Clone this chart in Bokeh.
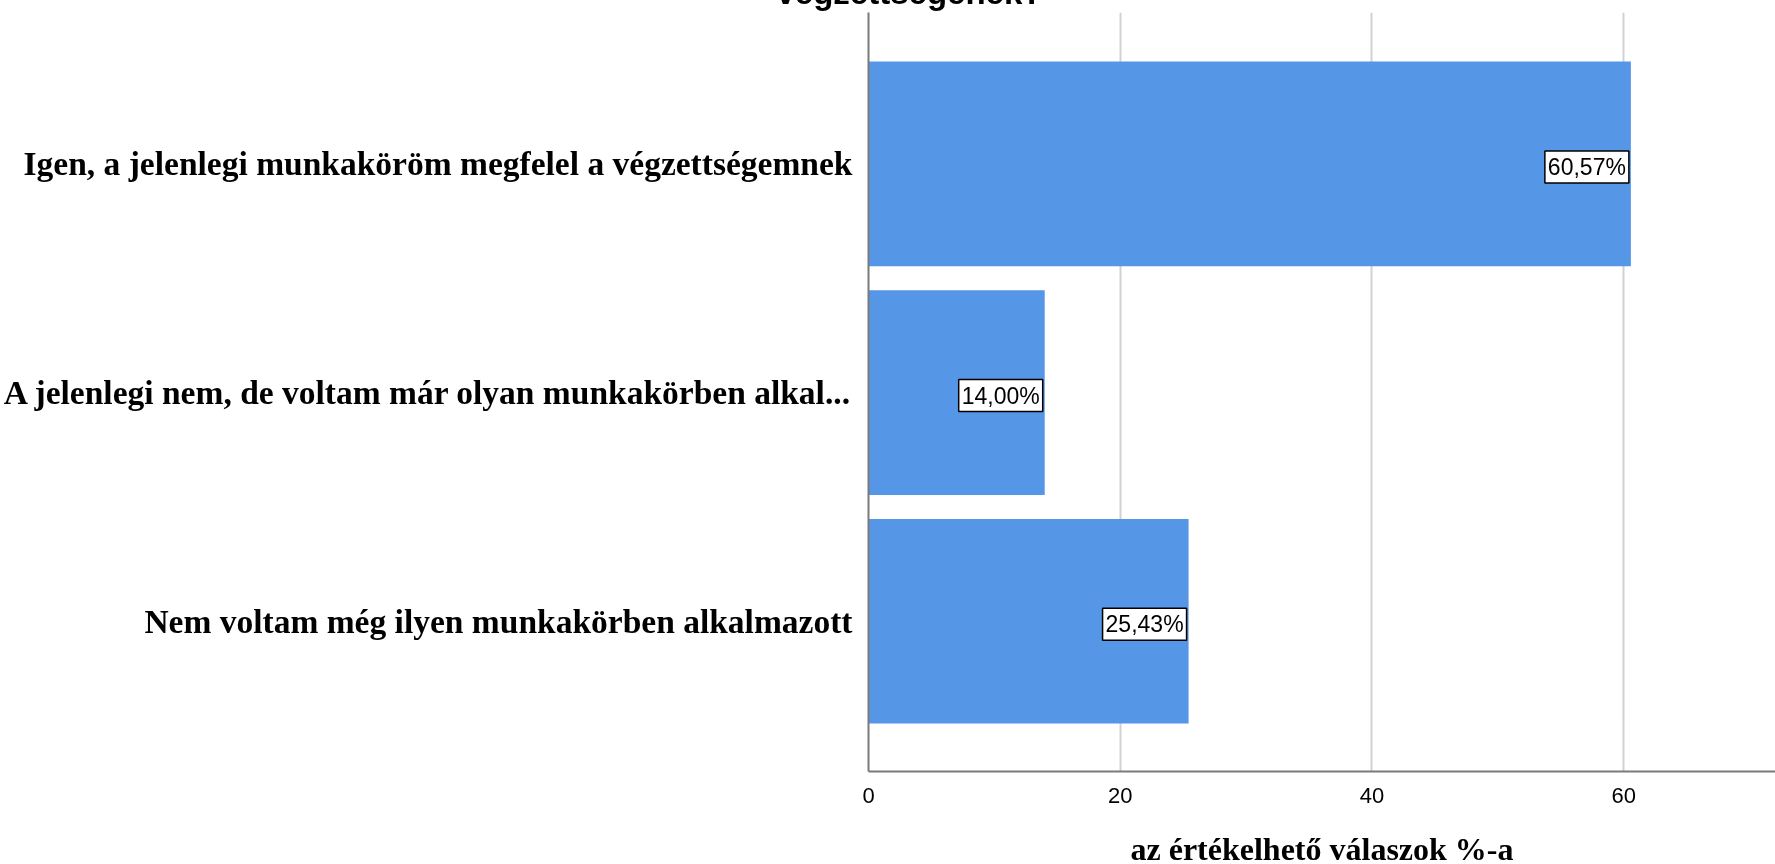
from bokeh.plotting import figure
from bokeh.models import Range1d, FixedTicker, ColumnDataSource
from bokeh.embed import file_html
from bokeh.resources import INLINE
from bokeh.core.properties import value

categories = [
    "Igen, a jelenlegi munkaköröm megfelel a végzettségemnek",
    "A jelenlegi nem, de voltam már olyan munkakörben alkal...",
    "Nem voltam még ilyen munkakörben alkalmazott",
]
percent = [60.57, 14.00, 25.43]
value_labels = ["60,57%", "14,00%", "25,43%"]
x_ticks = [0, 20, 40, 60]
title_tail = "végzettségének?"
x_title = "az értékelhető válaszok %-a"

positions = list(range(len(categories)))
src = ColumnDataSource(dict(pos=positions, val=percent, lbl=value_labels))

p = figure(width=1775, height=909, output_backend="svg", toolbar_location=None,
           x_range=Range1d(0, 72.06), y_range=Range1d(2.657, -0.662),
           min_border_left=867, min_border_right=0, min_border_top=52,
           min_border_bottom=97)
p.styles = {"position": "fixed", "top": "-40px", "left": "0px"}
p.outline_line_color = None
p.background_fill_color = "white"
p.border_fill_color = "white"

p.title.text = title_tail
p.title.align = "left"
p.title.offset = -92
p.title.standoff = 3
p.title.text_font = "Liberation Sans"
p.title.text_font_style = "bold"
p.title.text_font_size = "33px"
p.title.text_color = "black"

p.hbar(y="pos", left=0, right="val", height=0.895, source=src,
       fill_color="#5596e6", line_color=None)

p.text(x="val", y="pos", text="lbl", source=src, text_align="right",
       text_baseline="middle", text_font=value("Liberation Sans"),
       text_font_size="23px", text_color="black", x_offset=-2, y_offset=3,
       background_fill_color="white", border_line_color="black",
       border_line_width=1.5, padding=3)

p.xaxis.ticker = FixedTicker(ticks=x_ticks)
p.xaxis.axis_label = x_title
p.xaxis.axis_label_text_font = "Liberation Serif"
p.xaxis.axis_label_text_font_style = "bold"
p.xaxis.axis_label_text_font_size = "32px"
p.xaxis.axis_label_text_color = "black"
p.xaxis.axis_label_standoff = 25
p.xaxis.major_label_text_font = "Liberation Sans"
p.xaxis.major_label_text_font_size = "22px"
p.xaxis.major_label_text_color = "black"
p.xaxis.major_label_standoff = 10
p.xaxis.major_tick_line_color = None
p.xaxis.minor_tick_line_color = None
p.xaxis.axis_line_color = "#7a7a7a"
p.xaxis.axis_line_width = 2

p.yaxis.ticker = FixedTicker(ticks=positions)
p.yaxis.major_label_overrides = {i: c for i, c in zip(positions, categories)}
p.yaxis.major_label_text_font = "Liberation Serif"
p.yaxis.major_label_text_font_style = "bold"
p.yaxis.major_label_text_font_size = "33.5px"
p.yaxis.major_label_text_color = "black"
p.yaxis.major_label_standoff = 10
p.yaxis.major_tick_line_color = None
p.yaxis.minor_tick_line_color = None
p.yaxis.axis_line_color = "#7a7a7a"
p.yaxis.axis_line_width = 2

p.xgrid.grid_line_color = "#d2d2d2"
p.xgrid.grid_line_width = 2
p.ygrid.grid_line_color = None

open("out.html", "w").write(file_html(p, INLINE))
